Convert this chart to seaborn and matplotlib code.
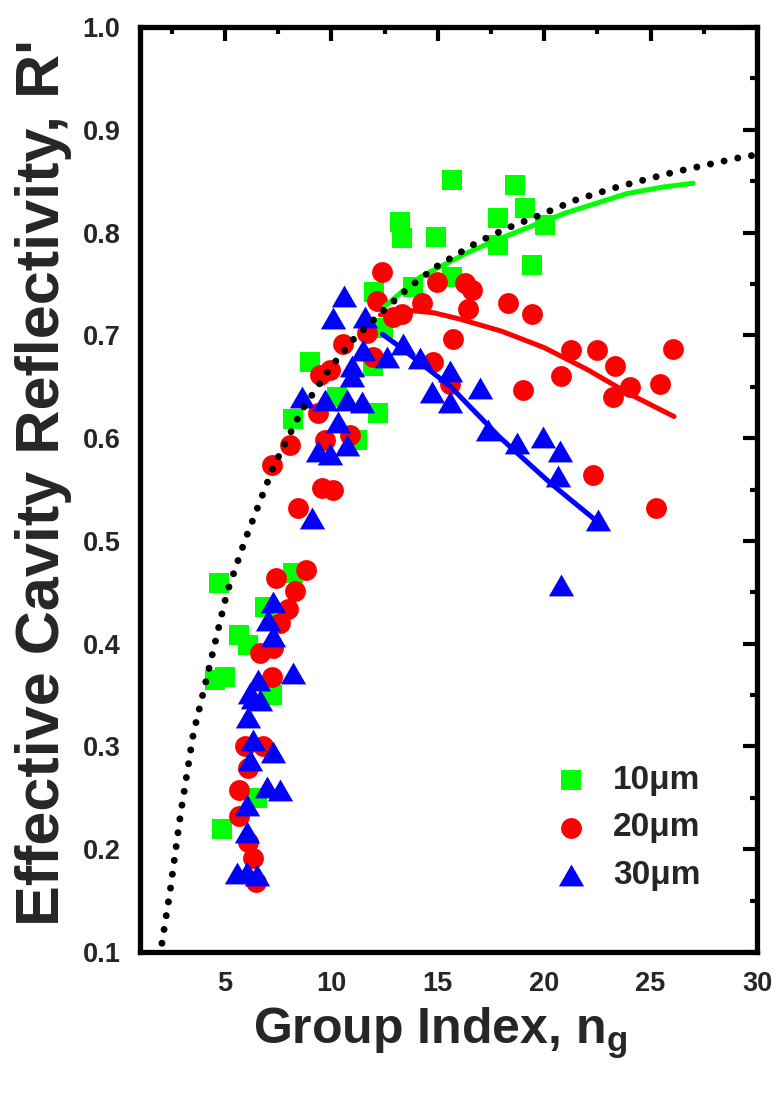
import numpy as np
import pandas as pd
import matplotlib
matplotlib.use("Agg")
import matplotlib.pyplot as plt
import seaborn as sns
from matplotlib.path import Path
from matplotlib.ticker import MultipleLocator, FormatStrFormatter

# ---------------- data ----------------
g10_x = [4.73, 8.21, 6.88, 5.66, 6.09, 5.00, 4.53, 7.19, 6.49, 4.85,
         8.99, 11.97, 10.25, 12.20, 8.21, 11.19, 12.0, 12.44,
         15.65, 18.62, 19.09, 17.84, 20.03, 14.91, 13.22, 13.31,
         17.84, 19.43, 15.65, 13.84]
g10_y = [0.459, 0.469, 0.436, 0.408, 0.399, 0.368, 0.365, 0.350, 0.250, 0.220,
         0.674, 0.670, 0.640, 0.624, 0.619, 0.598, 0.742, 0.707,
         0.851, 0.846, 0.824, 0.814, 0.807, 0.796, 0.810, 0.795,
         0.788, 0.768, 0.757, 0.747]

r20_x = [8.79, 7.40, 8.29, 7.97, 7.58, 7.27, 6.64, 7.19, 5.94, 6.80,
         6.09, 5.67, 5.67, 6.09, 6.30, 6.46,
         12.13, 12.91, 14.24, 11.66, 10.56, 11.97, 15.72, 14.78,
         9.46, 9.93, 9.38, 8.05, 9.70, 10.87, 7.19, 9.54, 10.09, 8.44,
         14.94, 16.27, 16.60, 16.43, 18.31, 19.41, 13.30, 21.28,
         22.46, 23.32, 20.81, 24.02, 23.24, 19.01, 15.57, 22.27,
         26.06, 25.43, 25.24, 12.37]
r20_y = [0.472, 0.464, 0.451, 0.434, 0.420, 0.396, 0.391, 0.368, 0.300, 0.300,
         0.279, 0.258, 0.232, 0.207, 0.191, 0.168,
         0.733, 0.718, 0.731, 0.702, 0.692, 0.679, 0.696, 0.674,
         0.661, 0.666, 0.624, 0.593, 0.598, 0.603, 0.574, 0.551, 0.550, 0.532,
         0.752, 0.751, 0.744, 0.726, 0.731, 0.721, 0.721, 0.686,
         0.686, 0.670, 0.660, 0.650, 0.640, 0.647, 0.653, 0.564,
         0.687, 0.653, 0.532, 0.762]

b30_x = [7.27, 7.03, 7.27, 6.56, 8.18, 6.17, 6.33, 6.64, 6.09, 6.33,
         7.27, 6.17, 6.96, 7.58, 6.02, 6.05, 5.55, 6.02, 6.49,
         10.09, 11.58, 11.50, 13.38, 12.60, 14.16, 10.95, 10.95,
         8.60, 9.70, 10.72, 11.42, 10.32, 9.38, 9.93, 10.72, 9.07, 10.60,
         15.57, 14.71, 16.98, 15.57, 17.37, 18.70, 19.95, 20.73, 20.66,
         22.53, 20.81]
b30_y = [0.441, 0.423, 0.407, 0.365, 0.371, 0.352, 0.347, 0.345, 0.329, 0.306,
         0.295, 0.287, 0.261, 0.258, 0.243, 0.217, 0.177, 0.178, 0.175,
         0.717, 0.718, 0.686, 0.692, 0.679, 0.678, 0.670, 0.660,
         0.640, 0.637, 0.637, 0.635, 0.616, 0.587, 0.585, 0.593, 0.522, 0.738,
         0.665, 0.645, 0.649, 0.635, 0.608, 0.595, 0.601, 0.587, 0.563,
         0.520, 0.457]

# fitted trend lines
fit10_x = [12.5, 13.4, 14.2, 16.35, 17.9, 19.5, 21.0, 23.9, 25.5, 27.0]
fit10_y = [0.728, 0.744, 0.757, 0.780, 0.794, 0.807, 0.819, 0.838, 0.844, 0.848]
fit20_x = [12.3, 13.2, 14.8, 16.0, 18.0, 20.0, 22.0, 24.0, 26.1]
fit20_y = [0.720, 0.725, 0.722, 0.716, 0.704, 0.688, 0.667, 0.643, 0.621]
fit30_x = [12.4, 13.2, 15.6, 17.9, 20.3, 22.6]
fit30_y = [0.701, 0.689, 0.650, 0.601, 0.556, 0.517]

# dotted model curve
model_x = [2.03, 2.42, 2.89, 3.51, 3.98, 5.08, 5.94, 7.27, 8.60, 9.93, 11.03,
           12.28, 13.61, 14.94, 16.90, 18.23, 19.56, 21.52, 23.55, 26.14, 29.42, 30.0]
model_y = [0.1085, 0.160, 0.232, 0.313, 0.353, 0.449, 0.501, 0.572, 0.627, 0.668,
           0.696, 0.721, 0.746, 0.767, 0.791, 0.804, 0.815, 0.832, 0.845, 0.859,
           0.874, 0.8755]

series_labels = ["10\u03bcm", "20\u03bcm", "30\u03bcm"]
series_colors = ["#00ff00", "#ff0000", "#0000ff"]

# ---------------- style ----------------
sns.set_style("white")
plt.rcParams["font.family"] = ["Liberation Sans", "DejaVu Sans"]
plt.rcParams["mathtext.fontset"] = "custom"
plt.rcParams["mathtext.rm"] = "Liberation Sans"
plt.rcParams["mathtext.bf"] = "Liberation Sans:bold"
plt.rcParams["mathtext.it"] = "Liberation Sans:italic"

fig = plt.figure(figsize=(7.76, 10.95), dpi=100)
ax = fig.add_axes([140 / 776, 1 - 952 / 1095, 617 / 776, 925 / 1095])

tri = Path([(-1, -0.866), (1, -0.866), (0, 0.866), (-1, -0.866)],
           [Path.MOVETO, Path.LINETO, Path.LINETO, Path.CLOSEPOLY])

sns.scatterplot(x=g10_x, y=g10_y, marker="s", color=series_colors[0], s=190,
                linewidth=0, ax=ax, label=series_labels[0], zorder=3)
sns.scatterplot(x=r20_x, y=r20_y, marker="o", color=series_colors[1], s=225,
                linewidth=0, ax=ax, label=series_labels[1], zorder=3)
sns.scatterplot(x=b30_x, y=b30_y, marker=tri, color=series_colors[2], s=330,
                linewidth=0, ax=ax, label=series_labels[2], zorder=3)

sns.lineplot(x=fit10_x, y=fit10_y, color=series_colors[0], lw=3.6, ax=ax,
             zorder=4, legend=False)
sns.lineplot(x=fit20_x, y=fit20_y, color=series_colors[1], lw=3.6, ax=ax,
             zorder=4, legend=False)
sns.lineplot(x=fit30_x, y=fit30_y, color=series_colors[2], lw=3.6, ax=ax,
             zorder=4, legend=False)
ax.plot(model_x, model_y, color="black", lw=5, linestyle=(0, (0.01, 2.0)),
        dash_capstyle="round", zorder=5)

ax.set_xlim(1, 30)
ax.set_ylim(0.1, 1.0)
ax.xaxis.set_major_locator(MultipleLocator(5))
ax.xaxis.set_minor_locator(MultipleLocator(2.5))
ax.yaxis.set_major_locator(MultipleLocator(0.1))
ax.yaxis.set_minor_locator(MultipleLocator(0.05))
ax.yaxis.set_major_formatter(FormatStrFormatter("%.1f"))

ax.tick_params(which="both", direction="in", top=True, right=True, width=3,
               labelsize=19.5, color="black")
ax.tick_params(which="major", length=10, pad=14)
ax.tick_params(which="minor", length=5)
for lab in ax.get_xticklabels() + ax.get_yticklabels():
    lab.set_fontweight("bold")
for sp in ax.spines.values():
    sp.set_linewidth(3.8)
    sp.set_color("black")

ax.set_xlabel(r"Group Index, n$_\mathbf{g}$", fontsize=36, fontweight="bold", va="top")
ax.xaxis.set_label_coords(0.486, -0.058)
ax.set_ylabel("Effective Cavity Reflectivity, R'", fontsize=44, fontweight="bold",
              va="center")
ax.yaxis.set_label_coords(-0.156, 0.508)

leg = ax.legend(loc="upper left", bbox_to_anchor=(538 / 776, 1 - 748 / 1095),
                bbox_transform=fig.transFigure, frameon=False,
                prop={"family": "Liberation Sans", "weight": "bold", "size": 24},
                handletextpad=0.75, labelspacing=0.5, borderpad=0, handlelength=1.0)

fig.savefig("out.png", dpi=100)
